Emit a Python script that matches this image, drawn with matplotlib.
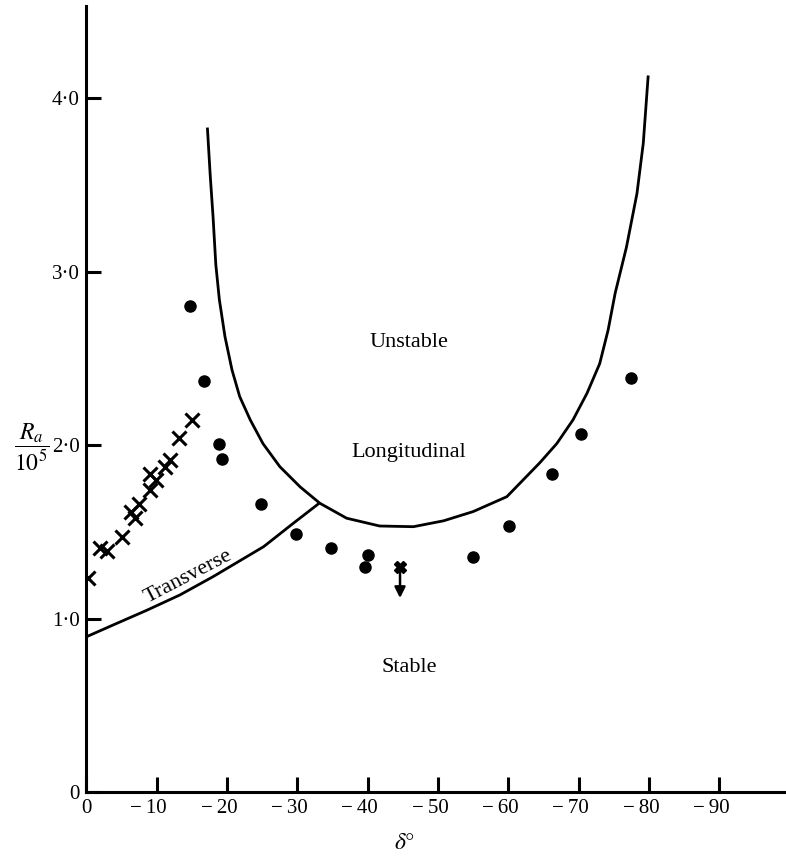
import matplotlib
matplotlib.use("Agg")
import matplotlib.pyplot as plt
import matplotlib.transforms as mtransforms

plt.rcParams['font.family'] = ['Liberation Serif', 'DejaVu Serif']
plt.rcParams['mathtext.fontset'] = 'stix'

# Neutral curve: longitudinal-roll mode
long_delta = [-17.2, -17.6, -18.0, -18.4, -18.9, -19.7, -20.7, -21.8, -23.3, -25.1,
              -27.5, -30.4, -33.2, -37.0, -41.7, -46.5, -50.8, -55.0, -59.8, -64.5,
              -66.9, -69.2, -71.2, -73.0, -74.2, -75.2, -76.8, -78.3, -79.2, -79.9]
long_ra = [3.83, 3.557, 3.32, 3.04, 2.84, 2.626, 2.434, 2.28, 2.146, 2.01,
           1.877, 1.76, 1.666, 1.58, 1.535, 1.531, 1.565, 1.618, 1.704, 1.90,
           2.01, 2.146, 2.30, 2.47, 2.664, 2.876, 3.14, 3.45, 3.74, 4.13]

# Neutral curve: transverse mode
trans_delta = [0.0, -3.8, -8.6, -13.3, -18.0, -25.2, -29.4, -33.1]
trans_ra = [0.897, 0.965, 1.05, 1.138, 1.243, 1.416, 1.55, 1.666]

# Observations: transverse onset (crosses)
cross_delta = [-0.2, -1.9, -2.9, -5.0, -6.4, -6.9, -7.5, -9.0, -9.1, -9.9,
               -11.2, -11.9, -13.1, -15.0]
cross_ra = [1.234, 1.407, 1.393, 1.474, 1.618, 1.58, 1.66, 1.74, 1.833, 1.80,
            1.877, 1.915, 2.04, 2.146]

# Observations: longitudinal onset (dots)
dot_delta = [-14.7, -16.7, -18.8, -19.3, -24.8, -29.8, -34.8, -40.1, -39.6,
             -55.0, -60.1, -66.2, -70.4, -77.5]
dot_ra = [2.80, 2.37, 2.01, 1.92, 1.66, 1.49, 1.41, 1.368, 1.30,
          1.358, 1.535, 1.835, 2.063, 2.386]

# Upper-bound observation with arrow
bound_delta = -44.6
bound_ra = 1.30
bound_arrow_to = 1.12

xticks = [0, -10, -20, -30, -40, -50, -60, -70, -80, -90]
xtick_labels = ['0'] + ['\u2212\u2009%d' % abs(v) for v in xticks[1:]]
yticks = [0, 1, 2, 3, 4]
ytick_labels = ['0', '1\u00b70', '2\u00b70', '3\u00b70', '4\u00b70']

fig = plt.figure(figsize=(7.86, 8.63), dpi=100)
ax = fig.add_axes([0.110, 0.0817, 0.89, 0.9113])

ax.plot(long_delta, long_ra, color='black', lw=2.0, solid_capstyle='butt',
        solid_joinstyle='round')
ax.plot(trans_delta, trans_ra, color='black', lw=2.0, solid_capstyle='butt',
        solid_joinstyle='round')

ax.plot(cross_delta, cross_ra, linestyle='none', marker='x', ms=10, mew=2.2,
        color='black')
ax.plot(dot_delta, dot_ra, linestyle='none', marker='o', ms=8, color='black')

ax.plot([bound_delta], [bound_ra], linestyle='none', marker='X', ms=8,
        color='black')
ax.annotate('', xy=(bound_delta, bound_arrow_to), xytext=(bound_delta, bound_ra),
            arrowprops=dict(arrowstyle='-|>', color='black', lw=1.8,
                            mutation_scale=16, shrinkA=0, shrinkB=0))

ax.text(-45.9, 2.59, 'Unstable', ha='center', va='center', fontsize=16)
ax.text(-45.9, 1.96, 'Longitudinal', ha='center', va='center', fontsize=16)
ax.text(-45.9, 0.72, 'Stable', ha='center', va='center', fontsize=16)
ax.text(-14.5, 1.245, 'Transverse', ha='center', va='center', fontsize=16,
        rotation=27.5, rotation_mode='anchor')

ax.set_xlim(0, -99.5)
ax.set_ylim(0, 4.53)

ax.set_xticks(xticks)
ax.set_xticklabels(xtick_labels)
ax.set_yticks(yticks)
ax.set_yticklabels(ytick_labels)
ax.tick_params(direction='in', length=11, width=2.2, labelsize=15, pad=5)

# negative tick labels sit slightly left of their ticks
shift = mtransforms.ScaledTranslation(-8 / 100, 0, fig.dpi_scale_trans)
for lbl in ax.get_xticklabels()[1:]:
    lbl.set_transform(lbl.get_transform() + shift)

for side in ['top', 'right']:
    ax.spines[side].set_visible(False)
for side in ['left', 'bottom']:
    ax.spines[side].set_linewidth(2.2)

fig.text(0.514, 0.023, r'$\delta°$', ha='center', va='center', fontsize=17)
fig.text(0.040, 0.482, r'$\dfrac{R_a}{10^5}$', ha='center', va='center',
         fontsize=17)

fig.savefig('out.png', dpi=100)
